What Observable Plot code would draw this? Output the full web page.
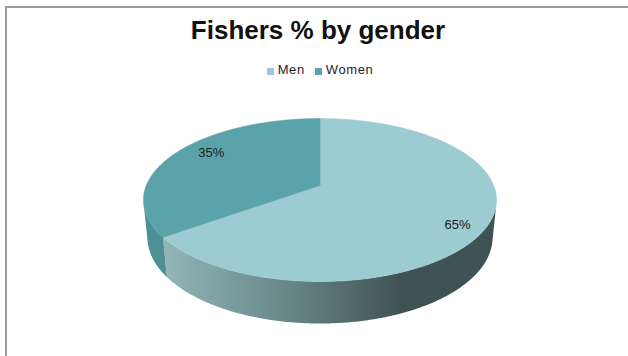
<!DOCTYPE html>
<html>
<head>
<meta charset="utf-8">
<script src="https://cdn.jsdelivr.net/npm/d3@7"></script>
<script src="https://cdn.jsdelivr.net/npm/@observablehq/plot@0.6"></script>
<style>
  html, body { margin: 0; padding: 0; background: #fff; overflow: hidden; }
  #wrap { position: relative; width: 628px; height: 356px; font-family: "Liberation Sans", Arial, sans-serif; }
  #frame { position: absolute; left: 5px; top: 6px; width: 700px; height: 400px;
           border-top: 2px solid #9a9a9a; border-left: 2px solid #9a9a9a; box-sizing: border-box; }
  #header { position: relative; height: 80px; }
  #title { position: absolute; left: 0; top: 15px; width: 636px; text-align: center;
           font-size: 26px; font-weight: bold; line-height: 30px; color: #111; }
  #legend { position: absolute; left: 0; top: 62px; width: 640px; display: flex; justify-content: center;
            font-size: 13px; line-height: 16px; color: #1e1e2a; letter-spacing: 0.6px; }
  .item { display: flex; align-items: center; margin: 0 5px; }
  .sw { width: 7px; height: 7px; margin-right: 4px; margin-top: 3px; }
  #chart { position: absolute; left: 0; top: 80px; }
</style>
</head>
<body>
<div id="wrap">
  <div id="frame"></div>
  <div id="header">
    <div id="title">Fishers % by gender</div>
    <div id="legend"></div>
  </div>
  <div id="chart"></div>
</div>
<script>
// ---- data ----
const categories = ["Men", "Women"];
const shares = [65, 35];
const labelText = ["65%", "35%"];

// ---- styles ----
const topFill = ["#9dcbd2", "#5ba3aa"];
const sideFill = ["url(#menSide)", "#4e9096"];

// ---- 3D view of the disc (perspective camera) ----
const sinPhi = 0.454, cosPhi = Math.sqrt(1 - sinPhi * sinPhi);
const camDist = 5;          // camera distance in disc radii
const thickness = 0.243;    // disc thickness in disc radii
const labelR = [0.79, 1.0]; // label placement (across, depth) in disc radii

function project(px, h, pz) {
  // px: across, h: height, pz: depth (positive = away from viewer)
  const zc = camDist + pz * cosPhi - h * sinPhi;
  return {X: camDist * px / zc, Y: camDist * (h * cosPhi + pz * sinPhi) / zc};
}

const rows = categories.map((c, i) => ({category: c, share: shares[i], label: labelText[i], i}));
const arcs = d3.pie().sort(null).value(d => d.share).startAngle(0).endAngle(2 * Math.PI)(rows);

function arcPoints(a0, a1, h) {
  const n = Math.max(2, Math.ceil((a1 - a0) / 0.01));
  const pts = [];
  for (let k = 0; k <= n; k++) {
    const a = a0 + (a1 - a0) * k / n;
    pts.push(project(Math.sin(a), h, Math.cos(a)));
  }
  return pts;
}

// visible part of the rim: where the outward normal faces the camera
const camZ = -camDist * cosPhi;
const rimLimit = Math.acos(1 / camZ); // cos(a) < 1/camZ
const rimStart = rimLimit, rimEnd = 2 * Math.PI - rimLimit;

const topFaces = arcs.map(a => {
  const c = project(0, 0, 0);
  const pts = [c, ...arcPoints(a.startAngle, a.endAngle, 0), c];
  return pts.map(p => ({...p, i: a.data.i}));
});

const sideFaces = arcs.map(a => {
  const s = Math.max(a.startAngle, rimStart), e = Math.min(a.endAngle, rimEnd);
  if (e <= s) return null;
  const pts = [...arcPoints(s, e, 0), ...arcPoints(s, e, -thickness).reverse()];
  pts.push(pts[0]);
  return pts.map(p => ({...p, i: a.data.i}));
}).filter(Boolean);

const labels = arcs.map(a => {
  const m = (a.startAngle + a.endAngle) / 2;
  return {...project(labelR[0] * Math.sin(m), 0, labelR[1] * Math.cos(m)), text: a.data.label};
});

// ---- legend ----
const legend = document.getElementById("legend");
categories.forEach((c, i) => {
  const it = document.createElement("div");
  it.className = "item";
  const sw = document.createElement("span");
  sw.className = "sw";
  sw.style.background = topFill[i];
  const tx = document.createElement("span");
  tx.textContent = c;
  it.appendChild(sw); it.appendChild(tx);
  legend.appendChild(it);
});

// ---- plot ----
const marks = [];
sideFaces.forEach(f => marks.push(Plot.line(f, {x: "X", y: "Y", fill: sideFill[f[0].i], stroke: "none"})));
topFaces.forEach(f => marks.push(Plot.line(f, {x: "X", y: "Y", fill: topFill[f[0].i], stroke: topFill[f[0].i], strokeWidth: 0.6})));
marks.push(Plot.text(labels, {x: "X", y: "Y", text: "text", dx: 4.5, fontSize: 13,
  fill: "#1a1a1a", fontFamily: "Liberation Sans, Arial, sans-serif"}));

const plot = Plot.plot({
  width: 628, height: 276,
  marginLeft: 145.8, marginRight: 134.8, marginTop: 18.15, marginBottom: 84.15,
  x: {domain: [-1, 1], axis: null},
  y: {domain: [-0.5, 0.5], axis: null},
  style: {background: "transparent", overflow: "visible"},
  marks
});

const ns = "http://www.w3.org/2000/svg";
const defs = document.createElementNS(ns, "defs");
const grad = document.createElementNS(ns, "linearGradient");
grad.setAttribute("id", "menSide");
grad.setAttribute("x1", "0"); grad.setAttribute("x2", "1");
grad.setAttribute("y1", "0"); grad.setAttribute("y2", "0");
[["0", "#94b6b9"], ["0.35", "#6a8a8c"], ["0.72", "#3f5253"], ["1", "#3f5354"]].forEach(([o, c]) => {
  const st = document.createElementNS(ns, "stop");
  st.setAttribute("offset", o); st.setAttribute("stop-color", c);
  grad.appendChild(st);
});
defs.appendChild(grad);
plot.insertBefore(defs, plot.firstChild);

document.getElementById("chart").appendChild(plot);
</script>
</body>
</html>
